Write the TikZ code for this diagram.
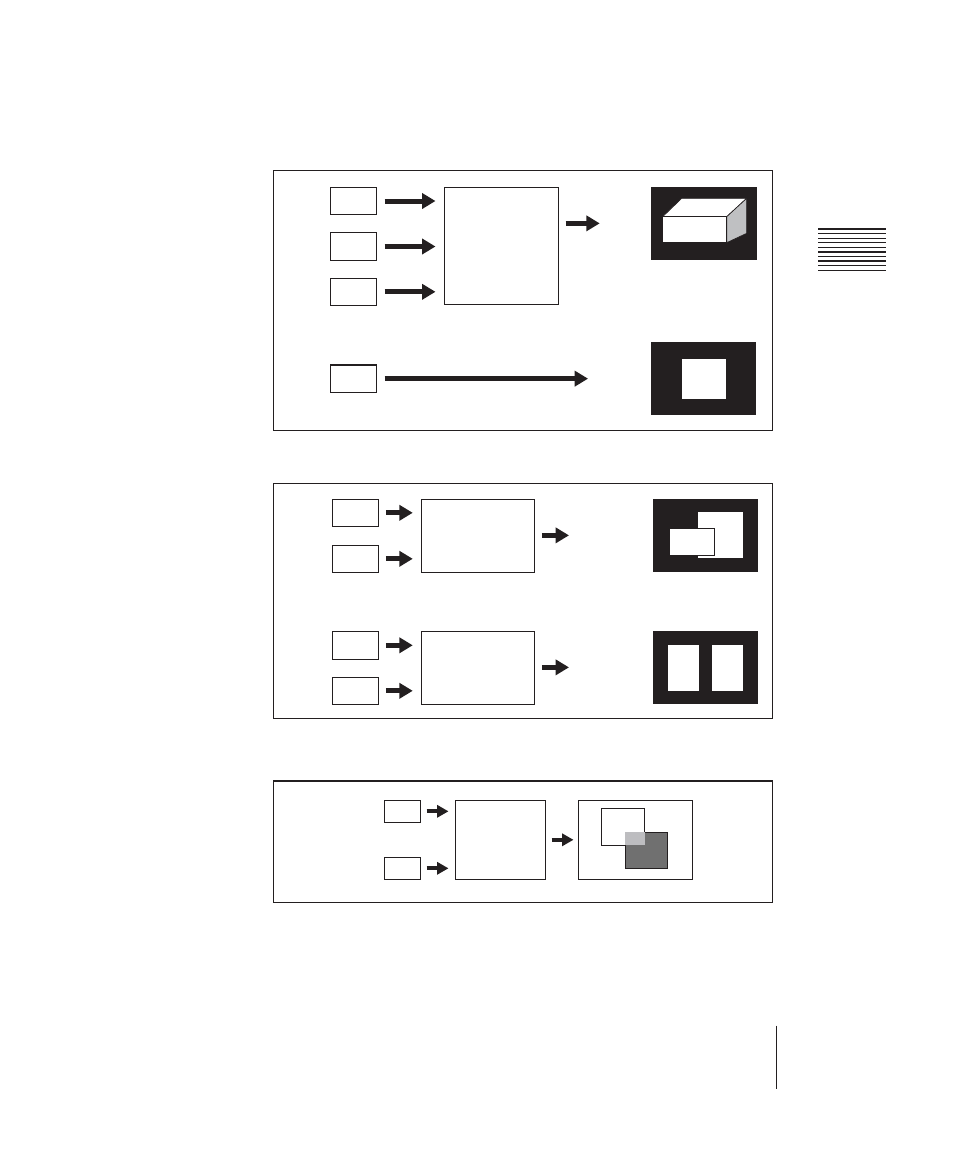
\documentclass[tikz,border=0pt]{standalone}
\usetikzlibrary{arrows.meta,fit}
\definecolor{ink}{HTML}{231F20}
\definecolor{sidegray}{HTML}{BFC0C2}
\definecolor{darkgray}{HTML}{707070}
\definecolor{lightgray}{HTML}{BDBDC0}
\begin{document}
\begin{tikzpicture}[x=0.75pt,y=-0.75pt,
  frame/.style={draw=ink, line width=0.9pt, inner sep=0pt},
  box/.style={draw=ink, line width=0.8pt, fill=white, inner sep=0pt},
  screen/.style={fill=ink, inner sep=0pt},
  pane/.style={fill=white, inner sep=0pt},
  fat/.style={draw=ink, line width=3.75pt, -{Triangle[length=10pt,width=11.25pt]}},
  fatsmall/.style={draw=ink, line width=3pt, -{Triangle[length=8.5pt,width=9pt]}},
  stripe/.style={draw=ink, line width=1pt}]
\useasboundingbox (0,0) rectangle (954,1165);

% ---------- Panel 1 ----------
\node[frame, fit={(273.3,170.3) (772.7,430.3)}] (p1) {};
\node[box, fit={(330.7,187.3) (376.7,214.7)}] (a1) {};
\node[box, fit={(330.7,232.7) (376.7,260.3)}] (a2) {};
\node[box, fit={(330.7,278.3) (376.7,305.3)}] (a3) {};
\node[box, fit={(330.7,365) (376.7,392.3)}] (a4) {};
\node[box, fit={(444.3,187.3) (558.3,304.7)}] (big1) {};
\node[screen, fit={(651,186.7) (756.7,260)}] (out1) {};
\node[screen, fit={(651,342) (756,414.7)}] (out2) {};
% cube
\filldraw[fill=white, draw=ink, line width=0.5pt] (662.7,216.7) -- (681.7,198.3) -- (746.7,198.3) -- (726.7,216.7) -- cycle;
\filldraw[fill=sidegray, draw=ink, line width=0.5pt] (726.7,216.7) -- (746.7,198.3) -- (746.7,233.3) -- (726.7,242.7) -- cycle;
\filldraw[fill=white, draw=ink, line width=0.5pt] (662.7,216.7) rectangle (726.7,242.7);
% centre picture
\node[pane, fit={(682,358.7) (726,398.7)}] (win2) {};

\draw[fat, shorten <=5.5pt, shorten >=6.2pt] (a1.east) -- (a1.east -| big1.west);
\draw[fat, shorten <=5.5pt, shorten >=6.2pt] (a2.east) -- (a2.east -| big1.west);
\draw[fat, shorten <=5.5pt, shorten >=6.2pt] (a3.east) -- (a3.east -| big1.west);
\draw[fat, shorten <=5pt, shorten >=38.25pt] (big1.east |- out1.west) -- (out1.west);
\draw[fat, shorten <=5.5pt, shorten >=47pt] (a4.east) -- (a4.east -| out2.west);

% ---------- Panel 2 ----------
\node[frame, fit={(273.3,483.7) (772.7,718.3)}] (p2) {};
\node[box, fit={(332.3,499.3) (378.3,526.3)}] (b1) {};
\node[box, fit={(332.3,545.3) (378.3,572.3)}] (b2) {};
\node[box, fit={(332.3,631.3) (378.3,659.3)}] (b3) {};
\node[box, fit={(332.3,677.3) (378.3,704.3)}] (b4) {};
\node[box, fit={(421.3,499.3) (534.3,572.3)}] (big2) {};
\node[box, fit={(421.3,631.3) (534.3,704.3)}] (big3) {};
\node[screen, fit={(653,499) (758,571.7)}] (out3) {};
\node[screen, fit={(653,631) (758,703.7)}] (out4) {};
\node[pane, fit={(698,512) (743,558)}] (back3) {};
\node[box, line width=0.6pt, fit={(669,528.3) (714.3,555.3)}] (front3) {};
\node[pane, fit={(668,645) (699,691)}] (left4) {};
\node[pane, fit={(712,645) (743,691)}] (right4) {};

\draw[fat, shorten <=5.25pt, shorten >=6pt] (b1.east) -- (b1.east -| big2.west);
\draw[fat, shorten <=5.25pt, shorten >=6pt] (b2.east) -- (b2.east -| big2.west);
\draw[fat, shorten <=5.25pt, shorten >=6pt] (b3.east) -- (b3.east -| big3.west);
\draw[fat, shorten <=5.25pt, shorten >=6pt] (b4.east) -- (b4.east -| big3.west);
\draw[fat, shorten <=5.25pt, shorten >=62.8pt] (big2.east |- out3.west) -- (out3.west);
\draw[fat, shorten <=5.25pt, shorten >=62.8pt] (big3.east |- out4.west) -- (out4.west);

% ---------- Panel 3 ----------
\node[frame, fit={(273.3,781) (772.7,902.3)}] (p3) {};
\node[box, fit={(384.3,800.3) (420.3,822.3)}] (c1) {};
\node[box, fit={(384.3,857.3) (420.3,879.3)}] (c2) {};
\node[box, fit={(455.3,800.3) (545.3,879.3)}] (big4) {};
\node[box, fit={(578.3,800.3) (692.7,879.3)}] (out5) {};
\node[box, line width=0.6pt, fit={(601.3,808.3) (644.7,845.3)}] (fg5) {};
\node[box, fill=darkgray, line width=0.6pt, fit={(625.3,832.3) (667.7,868.3)}] (bg5) {};
\fill[lightgray] (625.3,832.3) rectangle (644.7,845.3);

\draw[fatsmall, shorten <=4.3pt, shorten >=4.7pt] (c1.east) -- (c1.east -| big4.west);
\draw[fatsmall, shorten <=4.3pt, shorten >=4.7pt] (c2.east) -- (c2.east -| big4.west);
\draw[fatsmall, shorten <=4.3pt, shorten >=3.2pt] (big4.east |- out5.west) -- (out5.west);

% ---------- page marks ----------
\foreach \i in {0,...,9} {
  \draw[stripe] (818,229+4.59*\i) -- (886,229+4.59*\i);
}
\coordinate (vtop) at (776.3,1025.7);
\coordinate (vbot) at (776.3,1088.7);
\draw[stripe] (vtop) -- (vbot);
\end{tikzpicture}
\end{document}
